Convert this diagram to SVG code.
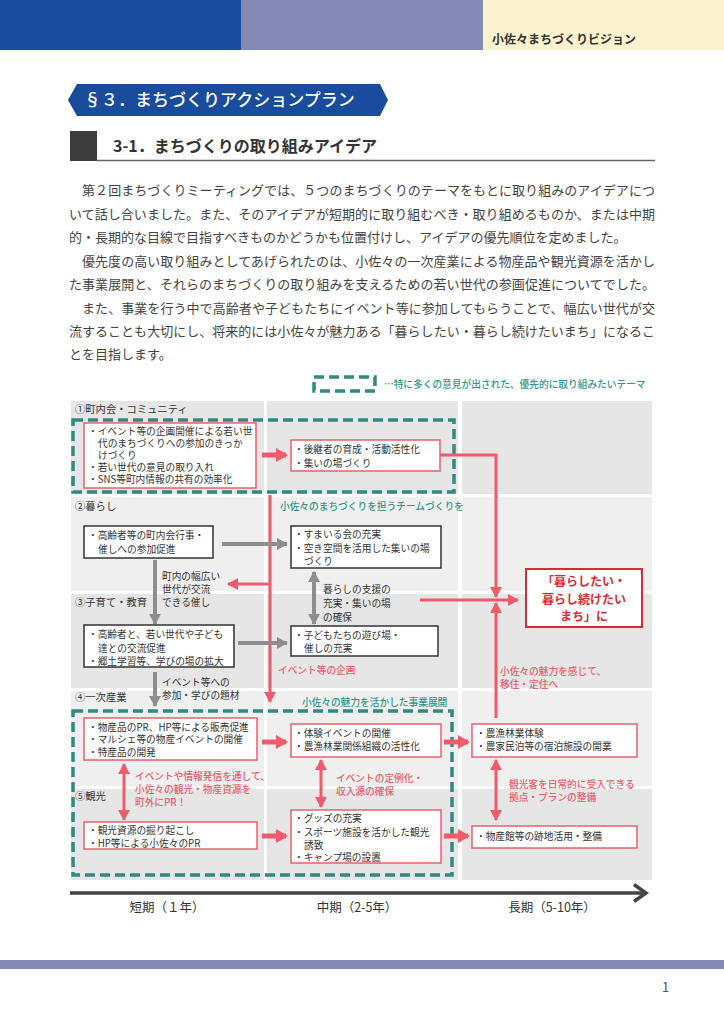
<svg xmlns="http://www.w3.org/2000/svg" width="724" height="1024" viewBox="0 0 724 1024">
<defs>
<style>
text{font-family:"Noto Sans CJK JP","Noto Sans",sans-serif;}
.p{font-size:13px;fill:#444;}
.bx{font-size:9.7px;fill:#333;}
.lbl{font-size:10.3px;fill:#333;}
.teal{font-size:9.7px;fill:#2f968a;font-weight:500;}
.red{font-size:9.7px;fill:#e9606c;font-weight:500;}
.rb{fill:#fff;stroke:#e9606c;stroke-width:1.5;}
.kb{fill:#fff;stroke:#333;stroke-width:1.5;}
.dash{fill:none;stroke:#2f8a80;stroke-width:3.5;stroke-dasharray:10 5;}
.rl{fill:none;stroke:#ef5b6a;stroke-width:3;}
.rt{fill:none;stroke:#ef5b6a;stroke-width:5;}
.gl{fill:none;stroke:#8e8e8e;stroke-width:4;}
.g1{fill:#e6e6e6;}
.g2{fill:#efefef;}
.tl{font-size:12.5px;fill:#333;}
.goal{font-size:12px;font-weight:700;fill:#d92b33;}
</style>
<marker id="ra" markerUnits="userSpaceOnUse" markerWidth="12" markerHeight="12" refX="10" refY="6" orient="auto-start-reverse"><path d="M0,0 L11,6 L0,12 z" fill="#ef5b6a"/></marker>
<marker id="rab" markerUnits="userSpaceOnUse" markerWidth="12" markerHeight="14" refX="10" refY="7" orient="auto-start-reverse"><path d="M0,0 L12,7 L0,14 z" fill="#ef5b6a"/></marker>
<marker id="ga" markerUnits="userSpaceOnUse" markerWidth="12" markerHeight="12" refX="10" refY="6" orient="auto-start-reverse"><path d="M0,0 L11,6 L0,12 z" fill="#8e8e8e"/></marker>
</defs>

<g id="header">
<rect x="0" y="0" width="241" height="50" fill="#1a4c9e"/>
<rect x="241" y="0" width="242" height="50" fill="#8589b6"/>
<rect x="483" y="0" width="241" height="50" fill="#fbf3d0"/>
<text x="492" y="44" font-size="12" font-weight="700" fill="#333">小佐々まちづくりビジョン</text>
</g>

<g id="section-title">
<path d="M77,84 L380,84 L388,100 L380,116 L77,116 L68,100 Z" fill="#1a4c9e"/>
<text x="84" y="106" font-size="17" font-weight="500" fill="#fff">§３．まちづくりアクションプラン</text>
</g>

<g id="sub-title">
<rect x="70" y="131" width="27" height="30" fill="#3c3c3c"/>
<line x1="97" y1="160.5" x2="655" y2="160.5" stroke="#666" stroke-width="1.5"/>
<text x="113" y="152" font-size="16" font-weight="700" fill="#333">3-1．まちづくりの取り組みアイデア</text>
</g>

<g id="paragraph">
<text class="p" x="82" y="195" textLength="573" lengthAdjust="spacing">第２回まちづくりミーティングでは、５つのまちづくりのテーマをもとに取り組みのアイデアにつ</text>
<text class="p" x="69" y="219" textLength="586" lengthAdjust="spacing">いて話し合いました。また、そのアイデアが短期的に取り組むべき・取り組めるものか、または中期</text>
<text class="p" x="69" y="242">的・長期的な目線で目指すべきものかどうかも位置付けし、アイデアの優先順位を定めました。</text>
<text class="p" x="82" y="266" textLength="573" lengthAdjust="spacing">優先度の高い取り組みとしてあげられたのは、小佐々の一次産業による物産品や観光資源を活かし</text>
<text class="p" x="69" y="289" textLength="586" lengthAdjust="spacing">た事業展開と、それらのまちづくりの取り組みを支えるための若い世代の参画促進についてでした。</text>
<text class="p" x="82" y="313" textLength="573" lengthAdjust="spacing">また、事業を行う中で高齢者や子どもたちにイベント等に参加してもらうことで、幅広い世代が交</text>
<text class="p" x="69" y="336" textLength="586" lengthAdjust="spacing">流することも大切にし、将来的には小佐々が魅力ある「暮らしたい・暮らし続けたいまち」になるこ</text>
<text class="p" x="69" y="359">とを目指します。</text>
</g>

<g id="legend">
<rect x="314" y="377" width="61" height="14" class="dash"/>
<text class="teal" x="384" y="388" font-size="9.5">…特に多くの意見が出された、優先的に取り組みたいテーマ</text>
</g>

<g id="grid">
<rect class="g1" x="71" y="401" width="193" height="93"/>
<rect class="g1" x="267" y="401" width="191" height="93"/>
<rect class="g1" x="462" y="401" width="190" height="93"/>
<rect class="g2" x="71" y="497" width="193" height="94"/>
<rect class="g2" x="267" y="497" width="191" height="94"/>
<rect class="g2" x="462" y="497" width="190" height="94"/>
<rect class="g1" x="71" y="594" width="193" height="94"/>
<rect class="g1" x="267" y="594" width="191" height="94"/>
<rect class="g1" x="462" y="594" width="190" height="94"/>
<rect class="g2" x="71" y="691" width="193" height="95"/>
<rect class="g2" x="267" y="691" width="191" height="95"/>
<rect class="g2" x="462" y="691" width="190" height="95"/>
<rect class="g1" x="71" y="789" width="193" height="91"/>
<rect class="g1" x="267" y="789" width="191" height="91"/>
<rect class="g1" x="462" y="789" width="190" height="91"/>
<text class="lbl" x="75" y="413">①町内会・コミュニティ</text>
<text class="lbl" x="75" y="510">②暮らし</text>
<text class="lbl" x="75" y="606">③子育て・教育</text>
<text class="lbl" x="75" y="701">④一次産業</text>
<text class="lbl" x="75" y="800">⑤観光</text>
</g>

<g id="priority-areas">
<rect class="dash" x="73" y="420" width="381" height="72"/>
<rect class="dash" x="73" y="711" width="379" height="164"/>
</g>

<g id="connectors">
<line class="rt" x1="262" y1="455" x2="286" y2="455" marker-end="url(#rab)"/>
<polyline class="rl" points="440,455 496,455 496,597" marker-end="url(#ra)"/>
<line class="rl" x1="270" y1="495" x2="270" y2="702" marker-end="url(#ra)"/>
<line class="rl" x1="270" y1="584" x2="228" y2="584" marker-end="url(#ra)"/>
<line class="gl" x1="222" y1="544" x2="287" y2="544" marker-end="url(#ga)"/>
<line class="gl" x1="155" y1="560" x2="155" y2="624" marker-end="url(#ga)"/>
<line class="gl" x1="314" y1="572" x2="314" y2="624" marker-start="url(#ga)" marker-end="url(#ga)"/>
<line class="rl" x1="420" y1="600" x2="518" y2="600" marker-end="url(#ra)"/>
<line class="rl" x1="496" y1="718" x2="496" y2="603" marker-end="url(#ra)"/>
<line class="gl" x1="238" y1="643" x2="287" y2="643" marker-end="url(#ga)"/>
<line class="gl" x1="155" y1="672" x2="155" y2="706" marker-end="url(#ga)"/>
<line class="rt" x1="262" y1="742" x2="286" y2="742" marker-end="url(#rab)"/>
<line class="rt" x1="444" y1="742" x2="468" y2="742" marker-end="url(#rab)"/>
<line class="rl" x1="124" y1="764" x2="124" y2="820" stroke-width="3.5" marker-start="url(#ra)" marker-end="url(#ra)"/>
<line class="rl" x1="321" y1="760" x2="321" y2="807" stroke-width="3.5" marker-start="url(#ra)" marker-end="url(#ra)"/>
<line class="rl" x1="496" y1="760" x2="496" y2="820" stroke-width="3.5" marker-start="url(#ra)" marker-end="url(#ra)"/>
<line class="rt" x1="262" y1="836" x2="286" y2="836" marker-end="url(#rab)"/>
<line class="rt" x1="444" y1="836" x2="468" y2="836" marker-end="url(#rab)"/>
</g>

<g id="connector-labels">
<text class="teal" x="280" y="510">小佐々のまちづくりを担うチームづくりを</text>
<text class="bx" x="162" y="580">町内の幅広い</text>
<text class="bx" x="162" y="593">世代が交流</text>
<text class="bx" x="162" y="606">できる催し</text>
<text class="bx" x="323" y="593">暮らしの支援の</text>
<text class="bx" x="323" y="607">充実・集いの場</text>
<text class="bx" x="323" y="621">の確保</text>
<text class="red" x="278" y="674">イベント等の企画</text>
<text class="red" x="500" y="675">小佐々の魅力を感じて、</text>
<text class="red" x="500" y="688">移住・定住へ</text>
<text class="bx" x="162" y="686">イベント等への</text>
<text class="bx" x="162" y="699">参加・学びの題材</text>
<text class="teal" x="302" y="706">小佐々の魅力を活かした事業展開</text>
<text class="red" x="135" y="780">イベントや情報発信を通して、</text>
<text class="red" x="135" y="793">小佐々の観光・物産資源を</text>
<text class="red" x="135" y="806">町外にPR！</text>
<text class="red" x="336" y="782">イベントの定例化・</text>
<text class="red" x="336" y="795">収入源の確保</text>
<text class="red" x="509" y="788">観光客を日常的に受入できる</text>
<text class="red" x="509" y="801">拠点・プランの整備</text>
</g>

<g id="node-a1">
<rect class="rb" x="84" y="423" width="172" height="65"/>
<text class="bx" x="88" y="435">・イベント等の企画開催による若い世</text>
<text class="bx" x="98" y="447">代のまちづくりへの参加のきっか</text>
<text class="bx" x="98" y="459">けづくり</text>
<text class="bx" x="88" y="471">・若い世代の意見の取り入れ</text>
<text class="bx" x="88" y="483">・SNS等町内情報の共有の効率化</text>
</g>
<g id="node-a2">
<rect class="rb" x="291" y="440" width="149" height="31"/>
<text class="bx" x="294" y="453">・後継者の育成・活動活性化</text>
<text class="bx" x="294" y="467">・集いの場づくり</text>
</g>
<g id="node-b1">
<rect class="kb" x="84" y="526" width="129" height="32"/>
<text class="bx" x="88" y="539">・高齢者等の町内会行事・</text>
<text class="bx" x="98" y="553">催しへの参加促進</text>
</g>
<g id="node-b2">
<rect class="kb" x="291" y="526" width="150" height="42"/>
<text class="bx" x="294" y="538">・すまいる会の充実</text>
<text class="bx" x="294" y="552">・空き空間を活用した集いの場</text>
<text class="bx" x="304" y="565">づくり</text>
</g>
<g id="node-goal">
<rect x="526" y="569" width="116" height="58" fill="#fff" stroke="#d92b33" stroke-width="2"/>
<text class="goal" x="584" y="586" text-anchor="middle">「暮らしたい・</text>
<text class="goal" x="584" y="603.5" text-anchor="middle">暮らし続けたい</text>
<text class="goal" x="584" y="621" text-anchor="middle">まち」に</text>
</g>
<g id="node-c1">
<rect class="kb" x="84" y="625" width="150" height="42"/>
<text class="bx" x="88" y="638">・高齢者と、若い世代や子ども</text>
<text class="bx" x="98" y="652">達との交流促進</text>
<text class="bx" x="88" y="665">・郷土学習等、学びの場の拡大</text>
</g>
<g id="node-c2">
<rect class="kb" x="291" y="626" width="147" height="30"/>
<text class="bx" x="294" y="639">・子どもたちの遊び場・</text>
<text class="bx" x="304" y="652">催しの充実</text>
</g>
<g id="node-d1">
<rect class="rb" x="84" y="718" width="173" height="42"/>
<text class="bx" x="88" y="731">・物産品のPR、HP等による販売促進</text>
<text class="bx" x="88" y="743">・マルシェ等の物産イベントの開催</text>
<text class="bx" x="88" y="756">・特産品の開発</text>
</g>
<g id="node-d2">
<rect class="rb" x="291" y="724" width="150" height="33"/>
<text class="bx" x="294" y="737">・体験イベントの開催</text>
<text class="bx" x="294" y="750">・農漁林業関係組織の活性化</text>
</g>
<g id="node-e1">
<rect class="rb" x="472" y="724" width="165" height="33"/>
<text class="bx" x="476" y="737">・農漁林業体験</text>
<text class="bx" x="476" y="750">・農家民泊等の宿泊施設の開業</text>
</g>
<g id="node-f1">
<rect class="rb" x="84" y="822" width="173" height="27"/>
<text class="bx" x="88" y="834">・観光資源の掘り起こし</text>
<text class="bx" x="88" y="847">・HP等による小佐々のPR</text>
</g>
<g id="node-f2">
<rect class="rb" x="291" y="810" width="150" height="53"/>
<text class="bx" x="294" y="822">・グッズの充実</text>
<text class="bx" x="294" y="836">・スポーツ施設を活かした観光</text>
<text class="bx" x="304" y="849">誘致</text>
<text class="bx" x="294" y="861">・キャンプ場の設置</text>
</g>
<g id="node-f3">
<rect class="rb" x="472" y="826" width="165" height="22"/>
<text class="bx" x="476" y="840">・物産館等の跡地活用・整備</text>
</g>

<g id="timeline">
<line x1="70" y1="893" x2="644" y2="893" stroke="#444" stroke-width="3.5"/>
<polyline points="634,884.5 646,893 634,901.5" fill="none" stroke="#444" stroke-width="3.5"/>
<text class="tl" x="167" y="912" text-anchor="middle">短期（１年）</text>
<text class="tl" x="357" y="912" text-anchor="middle">中期（2-5年）</text>
<text class="tl" x="552" y="912" text-anchor="middle">長期（5-10年）</text>
</g>

<g id="footer">
<rect x="0" y="960" width="724" height="9" fill="#8589b6"/>
<text x="662" y="992" font-family="Liberation Serif, serif" font-size="13" fill="#555">1</text>
</g>
</svg>
